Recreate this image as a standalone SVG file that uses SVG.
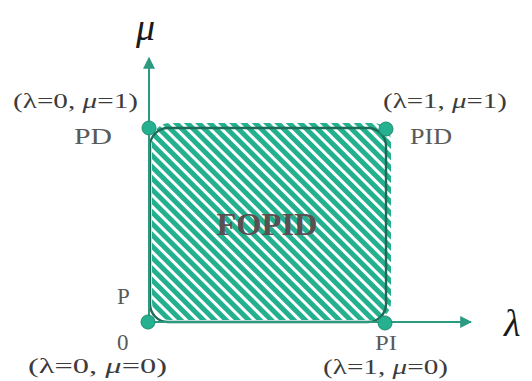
<svg xmlns="http://www.w3.org/2000/svg" width="532" height="381" viewBox="0 0 532 381">
<style>
.lbl{font-family:"Liberation Serif","DejaVu Serif",serif;fill:#3c3c3c;font-size:22px}
.nm{font-family:"Liberation Serif","DejaVu Serif",serif;fill:#5a5a5a;font-size:23px}
.ax{stroke:#2a9a80;stroke-width:2;fill:none}
.dot{fill:#25b08f;stroke:#1e8e72;stroke-width:1}
.big{font-family:"Liberation Serif","DejaVu Serif",serif;font-style:italic;fill:#1a1a1a;font-size:38px}
</style>
<defs>
<pattern id="hatch" patternUnits="userSpaceOnUse" width="8" height="8" patternTransform="rotate(-45)">
<rect width="8" height="8" fill="#22b08f"/>
<rect x="0" y="0" width="3" height="8" fill="#ffffff"/>
</pattern>
<marker id="arr" viewBox="0 0 10 10" refX="9" refY="5" markerWidth="6" markerHeight="6" orient="auto" markerUnits="strokeWidth">
<path d="M0,0 L10,5 L0,10 z" fill="#2a9a80"/>
</marker>
</defs>
<g id="region">
<rect x="152" y="123" width="239" height="197" rx="18" fill="url(#hatch)"/>
<rect x="150" y="128" width="236" height="194" rx="18" fill="none" stroke="#1d6b57" stroke-width="2.4"/>
<text x="267" y="235" text-anchor="middle" style="font-family:'Liberation Serif','DejaVu Serif',serif;font-weight:bold;font-size:32px;fill:#5a4f52" textLength="101" lengthAdjust="spacingAndGlyphs">FOPID</text>
</g>
<g id="connectors">
<line class="ax" x1="149" y1="322" x2="149" y2="58" marker-end="url(#arr)"/>
<line class="ax" x1="149" y1="322" x2="471" y2="322" marker-end="url(#arr)"/>
</g>
<g id="axis-mu"><text class="big" x="136" y="40">μ</text></g>
<g id="axis-lambda"><text class="big" x="504" y="336">λ</text></g>
<g id="node-PD">
<circle class="dot" cx="149" cy="128" r="7"/>
<text class="lbl" x="13" y="108" textLength="125" lengthAdjust="spacingAndGlyphs">(λ=0, <tspan font-style="italic">μ</tspan>=1)</text>
<text class="nm" x="74" y="144" textLength="38" lengthAdjust="spacingAndGlyphs">PD</text>
</g>
<g id="node-PID">
<circle class="dot" cx="386" cy="129" r="7"/>
<text class="lbl" x="383" y="108" textLength="124" lengthAdjust="spacingAndGlyphs">(λ=1, <tspan font-style="italic">μ</tspan>=1)</text>
<text class="nm" x="410" y="144" textLength="42" lengthAdjust="spacingAndGlyphs">PID</text>
</g>
<g id="node-P">
<circle class="dot" cx="148" cy="322" r="7"/>
<text class="nm" x="117" y="304">P</text>
<text class="nm" x="117" y="350">0</text>
<text class="lbl" x="28" y="373" textLength="139" lengthAdjust="spacingAndGlyphs">(λ=0, <tspan font-style="italic">μ</tspan>=0)</text>
</g>
<g id="node-PI">
<circle class="dot" cx="385" cy="323" r="7"/>
<text class="nm" x="375" y="350" textLength="22" lengthAdjust="spacingAndGlyphs" style="font-size:21px">PI</text>
<text class="lbl" x="323" y="374" textLength="125" lengthAdjust="spacingAndGlyphs">(λ=1, <tspan font-style="italic">μ</tspan>=0)</text>
</g>
</svg>
